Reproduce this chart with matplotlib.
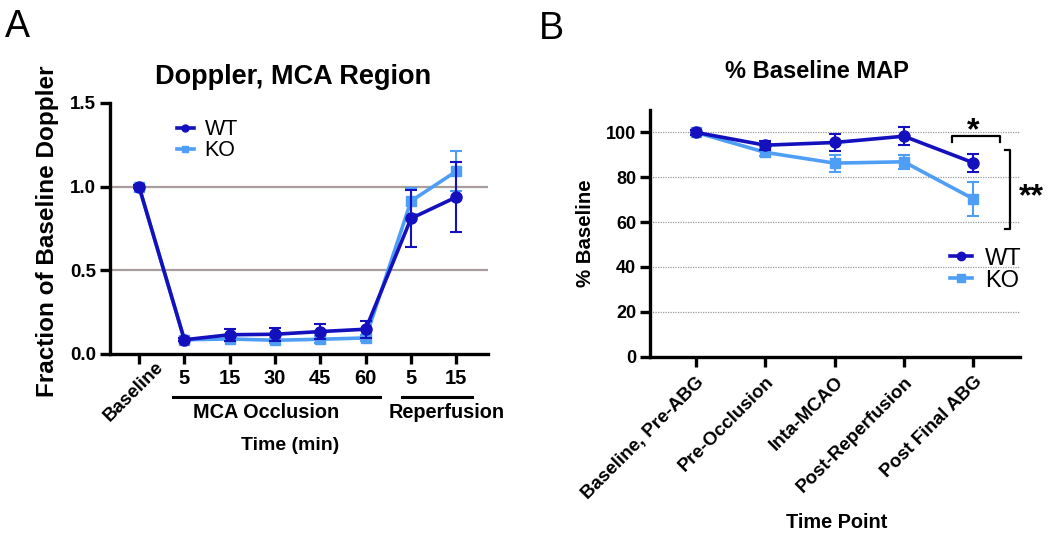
import matplotlib
matplotlib.use("Agg")
import matplotlib.pyplot as plt
import matplotlib.transforms as mtransforms
from matplotlib.lines import Line2D

plt.rcParams['font.family'] = ['Liberation Sans', 'DejaVu Sans']

# ---------------- Data: Panel A ----------------
a_labels = ["Baseline", "5", "15", "30", "45", "60", "5", "15"]
a_wt = [1.0, 0.085, 0.115, 0.118, 0.134, 0.148, 0.81, 0.938]
a_wt_err = [0.01, 0.01, 0.035, 0.04, 0.044, 0.05, 0.172, 0.21]
a_ko = [1.0, 0.085, 0.09, 0.082, 0.088, 0.096, 0.914, 1.092]
a_ko_err = [0.01, 0.01, 0.015, 0.015, 0.02, 0.02, 0.08, 0.12]
a_yticks = [0.0, 0.5, 1.0, 1.5]
a_grid = [0.5, 1.0]

# ---------------- Data: Panel B ----------------
b_labels = ["Baseline, Pre-ABG", "Pre-Occlusion", "Inta-MCAO", "Post-Reperfusion", "Post Final ABG"]
b_wt = [100.0, 94.3, 95.5, 98.3, 86.5]
b_wt_err = [1.0, 2.0, 4.0, 4.0, 4.0]
b_ko = [100.0, 91.1, 86.3, 86.9, 70.4]
b_ko_err = [1.0, 1.5, 3.8, 3.0, 7.7]
b_yticks = [0, 20, 40, 60, 80, 100]

WT_C = '#1410bd'
KO_C = '#4f9ef5'

fig = plt.figure(figsize=(10.5, 5.37), dpi=100)


def legend_handles(ms_o, ms_s):
    return [Line2D([], [], color=WT_C, marker='o', ms=ms_o, lw=2.6),
            Line2D([], [], color=KO_C, marker='s', ms=ms_s, lw=2.6)]


# ================= Panel A =================
axA = fig.add_axes([0.1048, 0.3408, 0.36, 0.4674])
xa = list(range(len(a_labels)))
for y in a_grid:
    axA.axhline(y, color='#a89c9c', lw=1.6, zorder=0)
axA.errorbar(xa, a_ko, yerr=a_ko_err, color=KO_C, marker='s', ms=7, lw=2.6,
             capsize=4, elinewidth=1.5, capthick=1.5, zorder=3)
axA.errorbar(xa, a_wt, yerr=a_wt_err, color=WT_C, marker='o', ms=8, lw=2.6,
             capsize=4, elinewidth=1.5, capthick=1.5, zorder=4)
axA.set_xlim(-0.64, 7.70)
axA.set_ylim(0, 1.5)
axA.set_yticks(a_yticks)
axA.set_yticklabels([f"{v:.1f}" for v in a_yticks])
axA.set_xticks(xa)
axA.set_xticklabels([""] + a_labels[1:])
for sp in ['top', 'right']:
    axA.spines[sp].set_visible(False)
for sp in ['left', 'bottom']:
    axA.spines[sp].set_linewidth(2.4)
axA.tick_params(axis='y', width=2.4, length=7, labelsize=13.5, pad=3)
axA.tick_params(axis='x', width=2.4, length=7, labelsize=14.5, pad=4)
for lab in axA.get_yticklabels() + axA.get_xticklabels():
    lab.set_fontweight('bold')

trA = mtransforms.blended_transform_factory(axA.transData, axA.transAxes)
axA.text(xa[0] - 0.11, -0.151, a_labels[0], transform=trA, rotation=45,
         ha='center', va='center', fontsize=13.5, fontweight='bold')

axA.legend(legend_handles(5, 4.5), ["WT", "KO"], loc='upper left', bbox_to_anchor=(0.148, 0.978),
           frameon=False, fontsize=15.5, handlelength=0.8,
           labelspacing=0.0, handletextpad=0.5, borderpad=0)

axA.plot([0.75, 5.32], [-0.171, -0.171], color='black', lw=2.2, transform=trA, clip_on=False)
axA.plot([5.81, 7.35], [-0.171, -0.171], color='black', lw=2.2, transform=trA, clip_on=False)
axA.text(2.80, -0.235, "MCA Occlusion", transform=trA, ha='center', va='center',
         fontsize=14.3, fontweight='bold')
axA.text(6.79, -0.235, "Reperfusion", transform=trA, ha='center', va='center',
         fontsize=14.3, fontweight='bold')
axA.set_xlabel("Time (min)", fontsize=14, fontweight='bold')
axA.xaxis.set_label_coords(0.4775, -0.329)
axA.set_ylabel("Fraction of Baseline Doppler", fontsize=17.5, fontweight='bold')
axA.yaxis.set_label_coords(-0.135, 0.488)
axA.text(0.484, 1.104, "Doppler, MCA Region", transform=axA.transAxes, ha='center',
         va='center', fontsize=19.5, fontweight='bold')

# ================= Panel B =================
axB = fig.add_axes([0.619, 0.3358, 0.3524, 0.4594])
xb = list(range(len(b_labels)))
for y in b_yticks[1:]:
    axB.axhline(y, color='#9a9a9a', lw=0.9, ls=(0, (1, 1)), zorder=0)
axB.errorbar(xb, b_ko, yerr=b_ko_err, color=KO_C, marker='s', ms=7, lw=2.6,
             capsize=4, elinewidth=1.5, capthick=1.5, zorder=3)
axB.errorbar(xb, b_wt, yerr=b_wt_err, color=WT_C, marker='o', ms=8, lw=2.6,
             capsize=4, elinewidth=1.5, capthick=1.5, zorder=4)
axB.set_xlim(-0.664, 4.675)
axB.set_ylim(0, 110)
axB.set_yticks(b_yticks)
axB.set_xticks(xb)
axB.set_xticklabels(b_labels, rotation=45, ha='right', rotation_mode='anchor')
for sp in ['top', 'right']:
    axB.spines[sp].set_visible(False)
for sp in ['left', 'bottom']:
    axB.spines[sp].set_linewidth(2.4)
axB.tick_params(axis='y', width=2.4, length=7, labelsize=13, pad=3)
axB.tick_params(axis='x', width=2.4, length=7, labelsize=13.5, pad=5)
for lab in axB.get_yticklabels() + axB.get_xticklabels():
    lab.set_fontweight('bold')

axB.legend(legend_handles(6, 5.5), ["WT", "KO"], loc='upper left', bbox_to_anchor=(0.778, 0.49),
           frameon=False, fontsize=17, handlelength=0.95,
           labelspacing=0.0, handletextpad=0.55, borderpad=0)

# significance brackets
axB.plot([3.70, 3.70, 4.38, 4.38], [95.5, 98.2, 98.2, 95.5], color='black', lw=1.6, clip_on=False)
axB.text(4.0, 100.5, "*", ha='center', va='center', fontsize=23, fontweight='bold')
axB.plot([4.46, 4.53, 4.53, 4.46], [92.3, 92.3, 57.0, 57.0], color='black', lw=1.6, clip_on=False)
axB.text(4.84, 71.0, "**", ha='center', va='center', fontsize=23, fontweight='bold')

axB.set_xlabel("Time Point", fontsize=14.3, fontweight='bold')
axB.xaxis.set_label_coords(0.505, -0.634)
axB.set_ylabel("% Baseline", fontsize=14.7, fontweight='bold')
axB.yaxis.set_label_coords(-0.149, 0.501)
axB.text(0.451, 1.154, "% Baseline MAP", transform=axB.transAxes, ha='center',
         va='center', fontsize=17, fontweight='bold')

fig.text(5 / 1050, 1 - 37 / 537, "A", fontsize=27, va='baseline', ha='left')
fig.text(539 / 1050, 1 - 39 / 537, "B", fontsize=27, va='baseline', ha='left')

fig.savefig("out.png", dpi=100)
